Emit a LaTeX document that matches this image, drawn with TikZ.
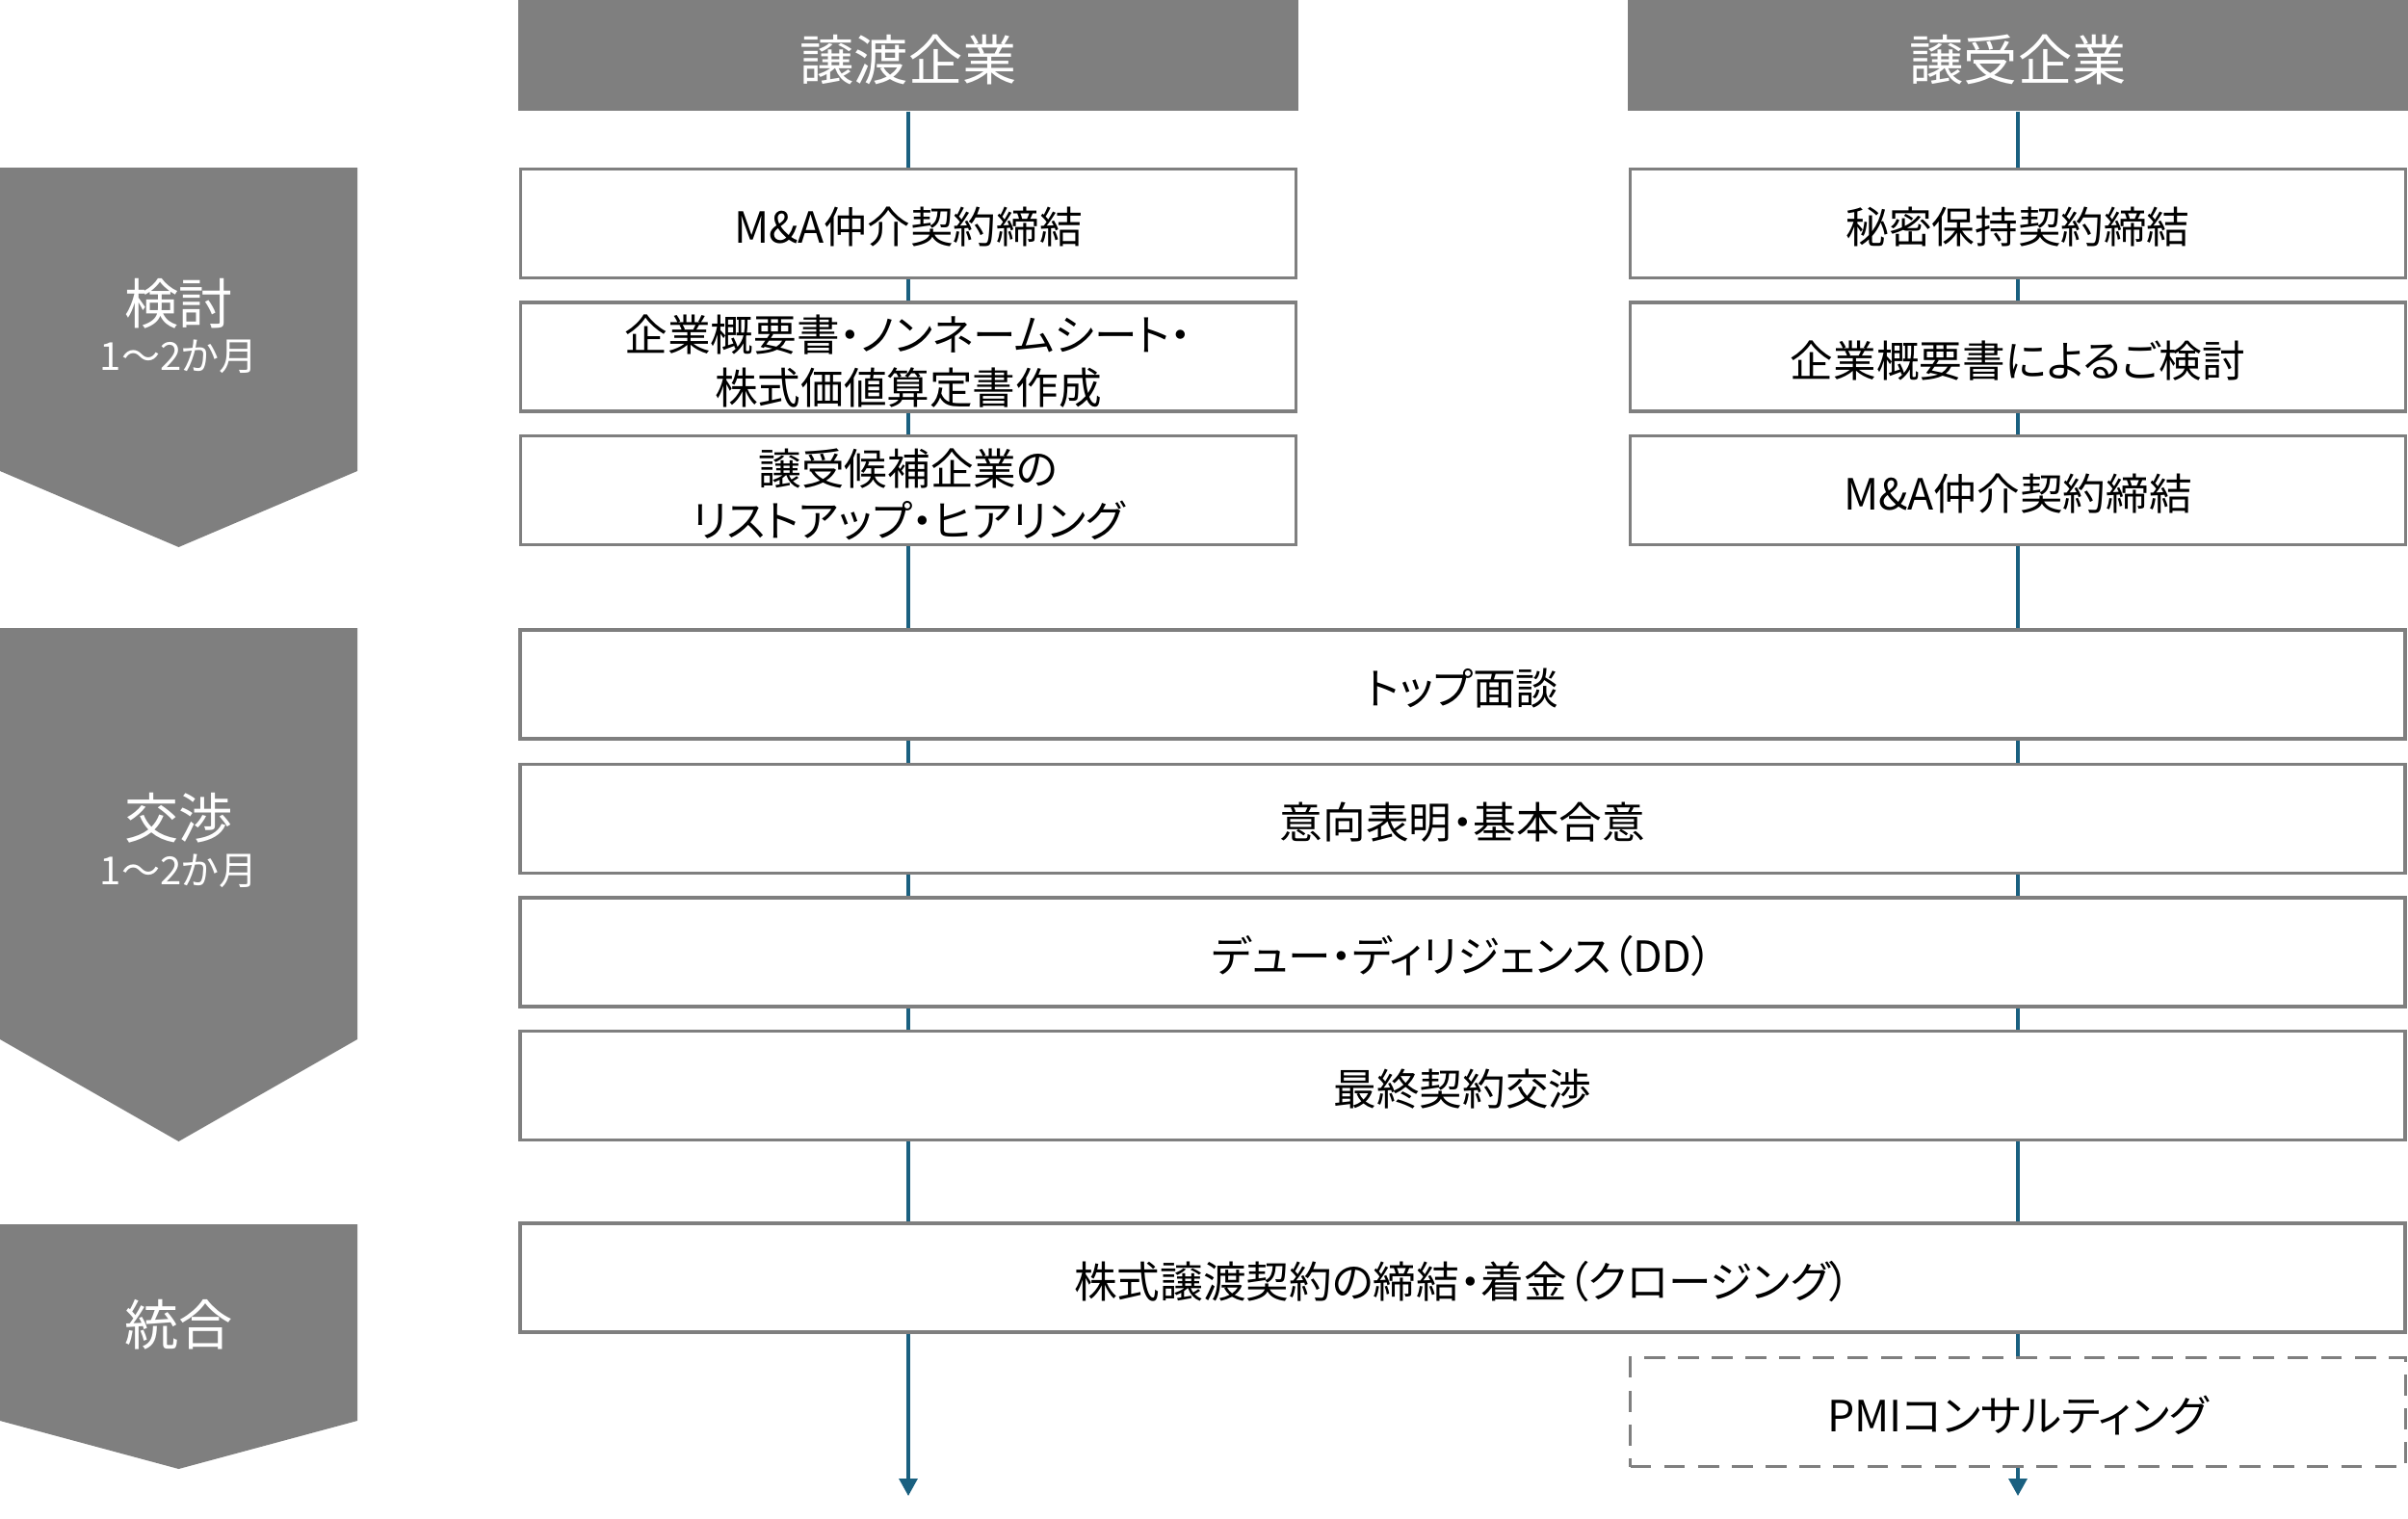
\documentclass[tikz,border=0pt]{standalone}
\usepackage{fontspec}
\setmainfont[RawFeature=+palt]{Noto Sans CJK JP}
\usepackage{tikz}
\usetikzlibrary{arrows.meta,positioning,calc}
\definecolor{magris}{RGB}{127,127,127}
\definecolor{mableu}{RGB}{26,96,128}
\tikzset{
  headbox/.style={
    rectangle, fill=magris, text=white, inner sep=0pt,
    minimum width=8.1cm, minimum height=1.15cm,
    text height=16pt, text depth=1.3pt,
    font=\fontsize{16}{19}\selectfont
  },
  stepbox/.style={
    rectangle, draw=magris, line width=1.1pt, fill=white, inner sep=0pt,
    minimum width=8.05cm, minimum height=1.13cm, align=center,
    text height=13.1pt, text depth=1.3pt,
    font=\fontsize{12.7}{15.5}\selectfont
  },
  twoline/.style={text height=29pt},
  widebox/.style={stepbox, minimum width=19.57cm},
  optbox/.style={stepbox, dash pattern=on 6.2pt off 3.8pt},
  phasetxt/.style={text=white, inner sep=0pt, font=\fontsize{16}{19}\selectfont},
  phasesub/.style={text=white, inner sep=0pt, font=\fontsize{11.4}{13}\selectfont},
  flowline/.style={draw=mableu, line width=0.9pt},
  flowend/.style={flowline, -{Triangle[length=0.18cm,width=0.19cm]}}
}

\begin{document}
\begin{tikzpicture}
  \useasboundingbox (0,0) rectangle (25,-15.76);

  % Phase chevrons
  \foreach \t/\b/\p in {1.74/4.89/5.68, 6.52/10.79/11.85, 12.71/14.75/15.25}
    \fill[magris] (0,-\t) -- (3.71,-\t) -- (3.71,-\b) -- (1.855,-\p) -- (0,-\b) -- cycle;
  \node[phasetxt] (ph1) at (1.855,-3.15) {検討};
  \node[phasesub, below=0.1cm of ph1] (ph1s) {1～2か月};
  \node[phasetxt] (ph2) at (1.855,-8.49) {交渉};
  \node[phasesub, below=0.1cm of ph2] (ph2s) {1～2か月};
  \node[phasetxt] (ph3) at (1.855,-13.75) {統合};

  % Column headers
  \node[headbox] (hL) at (9.43,-0.575) {譲渡企業};
  \node[headbox] (hR) at (20.95,-0.575) {譲受企業};

  % Seller side
  \node[stepbox] (l1) at (9.43,-2.32) {M\&A仲介契約締結};
  \node[stepbox, twoline] (l2) at (9.43,-3.705) {企業概要書・ノンネームシート・\\株式価値算定書作成};
  \node[stepbox, twoline] (l3) at (9.43,-5.09) {譲受候補企業の\\リストアップ・ヒアリング};

  % Buyer side
  \node[stepbox] (r1) at (20.95,-2.32) {秘密保持契約締結};
  \node[stepbox] (r2) at (20.95,-3.705) {企業概要書によるご検討};
  \node[stepbox] (r3) at (20.95,-5.09) {M\&A仲介契約締結};

  % Shared steps
  \node[widebox] (w1) at (15.185,-7.105) {トップ面談};
  \node[widebox] (w2) at (15.185,-8.5) {意向表明・基本合意};
  \node[widebox] (w3) at (15.185,-9.885) {デュー・ディリジェンス（DD）};
  \node[widebox] (w4) at (15.185,-11.27) {最終契約交渉};
  \node[widebox] (w5) at (15.185,-13.265) {株式譲渡契約の締結・着金（クロージング）};
  \node[optbox] (pmi) at (20.95,-14.66) {PMIコンサルティング};

  \coordinate (endL) at (9.43,-15.53);
  \coordinate (endR) at (20.95,-15.53);

  % Flow lines
  \foreach \a/\b in {hL/l1, l1/l2, l2/l3, hR/r1, r1/r2, r2/r3}
    \draw[flowline] (\a) -- (\b);
  \draw[flowline] (l3) -- (l3 |- w1.north);
  \draw[flowline] (r3) -- (r3 |- w1.north);
  \foreach \a/\b in {w1/w2, w2/w3, w3/w4, w4/w5} {
    \draw[flowline] (\a.south -| hL) -- (\b.north -| hL);
    \draw[flowline] (\a.south -| hR) -- (\b.north -| hR);
  }
  \draw[flowend] (w5.south -| hL) -- (endL);
  \draw[flowline] (w5.south -| pmi) -- (pmi);
  \draw[flowend] (pmi) -- (endR);
\end{tikzpicture}
\end{document}
